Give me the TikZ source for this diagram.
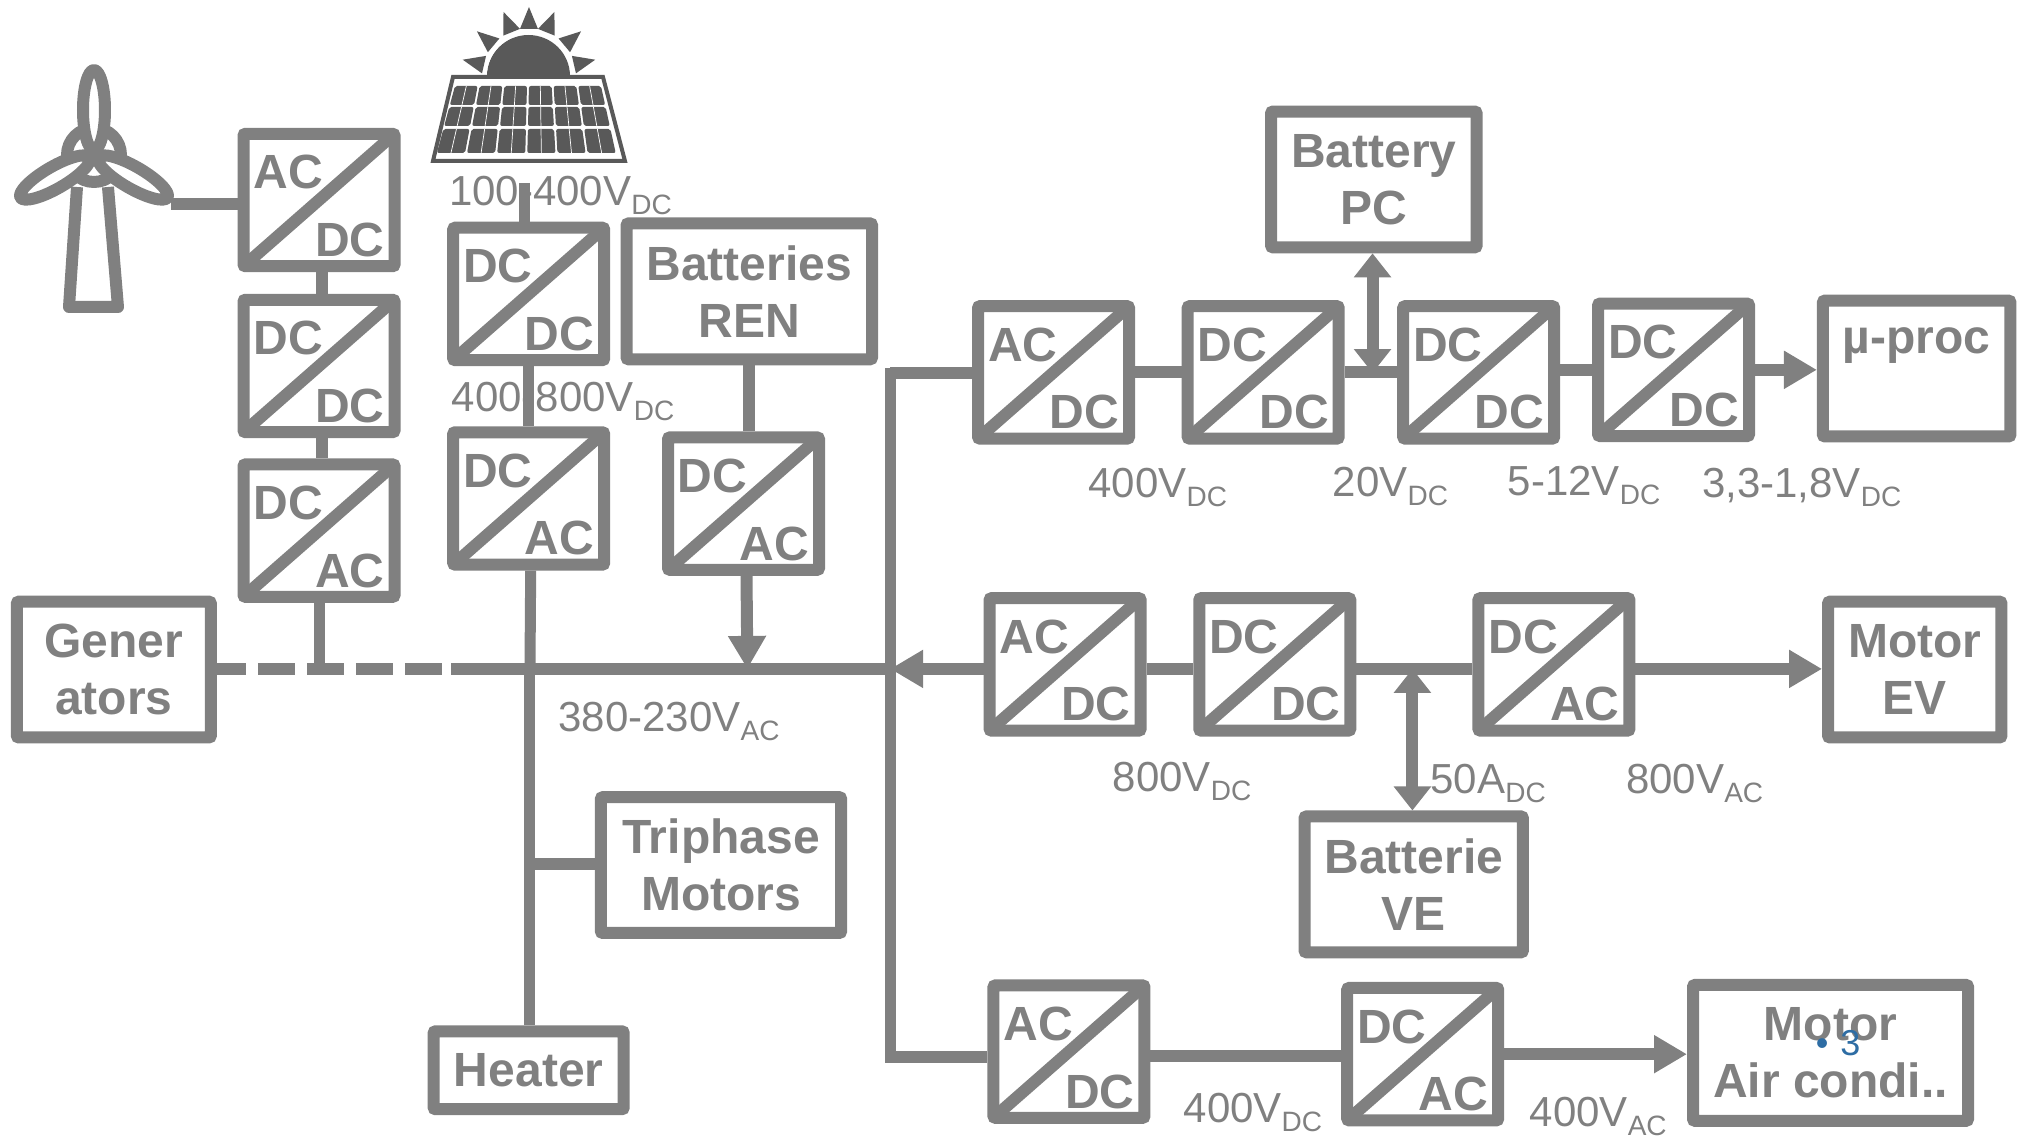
\documentclass[tikz,border=0pt]{standalone}
\usepackage{fontspec}
\setmainfont{Liberation Sans}
\usetikzlibrary{arrows.meta,calc}
\definecolor{gr}{HTML}{808080}
\definecolor{dk}{HTML}{595959}
\definecolor{blu}{HTML}{2E6DA4}
\tikzset{
  wire/.style={draw=gr,line width=12pt},
  thinwire/.style={draw=gr,line width=11pt},
  arr/.style={wire,-{Triangle[length=33pt,width=36pt]}},
  darr/.style={wire,{Triangle[length=24pt,width=36pt]}-{Triangle[length=24pt,width=36pt]}},
  blockbox/.style={draw=gr,line width=12pt,rounded corners=2pt,fill=white,inner sep=0pt},
  conv/.style={blockbox,minimum width=151pt,minimum height=132.4pt},
  ctxt/.style={text=gr,inner sep=0pt,font=\fontsize{48}{57}\selectfont\bfseries},
  btxt/.style={text=gr,inner sep=0pt,align=center,font=\fontsize{48}{57}\selectfont\bfseries},
  lab/.style={text=gr,inner sep=0pt,anchor=base west,font=\fontsize{42}{46}\selectfont},
  turb/.style={draw=gr,line width=12pt,line join=round}
}
% name, left, top, upper-left text, lower-right text (reference-view units)
\newcommand\conv[5]{%
  \node[conv] (#1) at ({#2+62},{#3+54.5}) {};
  \draw[wire] ([shift={(6pt,6pt)}]#1.south west) -- ([shift={(-6pt,-6pt)}]#1.north east);
  \node[ctxt] (#1tl) at ([shift={(-24,-21.5)}]#1.center) {#4};
  \node[ctxt] (#1br) at ([shift={(24,31)}]#1.center) {#5};
}
% name, x1, y1, x2, y2, text
\newcommand\tbox[6]{%
  \node[blockbox,btxt,minimum width={(#4-#2)*1.2864*1pt-8pt},minimum height={(#5-#3)*1.2864*1pt-7pt}] (#1) at ({(#2+#4)/2},{(#3+#5)/2}) {#6};
}
\newcommand\volt[2]{#1\raisebox{-9pt}{\fontsize{28}{30}\selectfont #2}}
\begin{document}
\begin{tikzpicture}[x=1.2864pt,y=-1.2864pt]
\useasboundingbox (0,0) rectangle (1568,885.4);
% wind turbine
\begin{scope}[x=1pt,y=-1pt]
  \draw[turb] (77,187) -- (69,307) -- (118,307) -- (108,187);
  \draw[turb] (94,155) circle (27);
  \foreach \a in {0,120,240}{
    \fill[white,rotate around={\a:(94,155)}] (94,110) ellipse (11 and 40);
  }
  \foreach \a in {0,120,240}{
    \draw[turb,rotate around={\a:(94,155)}] (94,110) ellipse (11 and 40);
  }
  \coordinate (windout) at (171,204);
\end{scope}
% solar panel
\begin{scope}[x=1pt,y=-1pt]
  \fill[dk] (487,76) arc[start angle=180,end angle=360,x radius=41.5,y radius=41];
  \foreach \a in {90,112,140,167,68,40,13}{
    \fill[dk] ($(529,75)+(\a:68 and -68)$) -- ($(529,75)+({\a+11}:47 and -47)$) -- ($(529,75)+({\a-11}:47 and -47)$) -- cycle;
  }
  \draw[white,line width=2.5pt] (485.5,76) arc[start angle=180,end angle=360,x radius=43.5,y radius=43];
  \draw[dk,line width=4pt,fill=white] (453,77) -- (603,77) -- (625,161) -- (433,161) -- cycle;
  \foreach \r/\ya/\yb in {0/86/105,1/107/126,2/129/153}{
    \foreach \c in {0,...,5}{
      \pgfmathsetmacro\xla{455-(\ya-86)*0.27+\c*(148+(\ya-86)*0.49)/6}
      \pgfmathsetmacro\xra{\xla+(148+(\ya-86)*0.49)/6-2}
      \pgfmathsetmacro\xlb{455-(\yb-86)*0.27+\c*(148+(\yb-86)*0.49)/6}
      \pgfmathsetmacro\xrb{\xlb+(148+(\yb-86)*0.49)/6-2}
      \fill[dk,rounded corners=2pt] (\xla,\ya) -- (\xra,\ya) -- (\xrb,\yb) -- (\xlb,\yb) -- cycle;
      \draw[white,line width=.7pt] ({(\xla+\xra)/2},\ya) -- ({(\xlb+\xrb)/2},\yb);
    }
  }
  \coordinate (pvout) at (525,183);
\end{scope}
% labels under the lines
\node[lab] (l1) at (349,159.4) {\volt{100-400V}{DC}};
\node[lab] (l2) at (351,320) {\volt{400-800V}{DC}};
% blocks
\conv{a1}{186}{101}{AC}{DC}
\conv{a2}{186}{230}{DC}{DC}
\conv{a3}{186}{358}{DC}{AC}
\conv{b1}{349}{174}{DC}{DC}
\conv{b2}{349}{333}{DC}{AC}
\conv{c1}{516}{337}{DC}{AC}
\conv{d1}{757}{235}{AC}{DC}
\conv{d2}{920}{235}{DC}{DC}
\conv{d3}{1087.5}{235}{DC}{DC}
\conv{d4}{1239}{233}{DC}{DC}
\conv{e1}{766}{462}{AC}{DC}
\conv{e2}{929}{462}{DC}{DC}
\conv{e3}{1146}{462}{DC}{AC}
\conv{f1}{769}{763}{AC}{DC}
\conv{f2}{1044}{765}{DC}{AC}
\tbox{ren}{484}{171}{681}{282}{Batteries\\REN}
\tbox{pc}{985}{84}{1151}{195}{Battery\\PC}
\tbox{up}{1414}{231}{1566}{342}{}
\node[btxt] (uptxt) at (1490,269) {µ-proc};
\tbox{ev}{1418}{465}{1559}{576}{Motor\\EV}
\tbox{ve}{1011}{632}{1187}{743}{Batterie\\VE}
\tbox{air}{1313}{763}{1533}{874}{Motor\\Air condi..}
\tbox{gen}{10}{465}{167}{576}{Gener\\ators}
\tbox{tri}{464}{617}{657}{728}{Triphase\\Motors}
\tbox{heat}{334}{799}{488}{865}{Heater}
% bus coordinates
\coordinate (busdash) at (350.6,520);
\coordinate (busa) at (248,520);
\coordinate (busb) at (412,520);
\coordinate (busc) at (581,520);
\coordinate (main) at (692,520);
\coordinate (maint) at (692,290);
\coordinate (mainb) at (692,822);
\coordinate (tee) at (411,672);
\coordinate (vd) at (1067,290);
\coordinate (vv) at (1098,520);
\coordinate (fbus) at (900,821);
\coordinate (ebus) at (1000,520);
% connectors
\draw[wire] (windout) -- (windout -| a1.west);
\draw[wire] ([xshift=3pt]a1.south) -- ([xshift=3pt]a2.north);
\draw[wire] ([xshift=3pt]a2.south) -- ([xshift=3pt]a3.north);
\draw[thinwire] (a3.south) -- (busa);
\draw[thinwire] (pvout) -- (pvout |- b1.north);
\draw[thinwire] (b1.south) -- (b2.north);
\draw[thinwire] ([xshift=2pt]b2.south) -- (busb);
\draw[wire] (ren.south) -- (ren.south |- c1.north);
\draw[arr] ([xshift=3pt]c1.south) -- (busc);
\draw[wire,dash pattern=on 37pt off 12pt,dash phase=8pt] (gen.east |- busa) -- (busdash);
\draw[wire] (busdash) -- (main);
\draw[thinwire] (busb) -- (busb |- heat.north);
\draw[wire] (tee) -- (tee -| tri.west);
\draw[thinwire,line cap=rect] (maint) -- (mainb);
\draw[wire] (maint) -- (maint -| d1.west);
\draw[wire] (mainb) -- (mainb -| f1.west);
\draw[wire] (d1.east) -- (d2.west);
\draw[wire] (d2.east) -- (d3.west);
\draw[wire] (d3.east |- d4.west) -- (d4.west);
\draw[arr] (d4.east) -- (d4.east -| up.west);
\draw[darr] (vd) -- (vd |- pc.south);
\draw[arr] (ebus -| e1.west) -- (main);
\draw[wire] (ebus -| e1.east) -- (ebus -| e2.west);
\draw[wire] (ebus -| e2.east) -- (ebus -| e3.west);
\draw[arr] (ebus -| e3.east) -- (ebus -| ev.west);
\draw[darr] (vv) -- (vv |- ve.north);
\draw[wire] (fbus -| f1.east) -- (fbus -| f2.west);
\draw[arr] (f2.east) -- (f2.east -| air.west);
% labels
\node[lab] (l3) at (846,387) {\volt{400V}{DC}};
\node[lab] (l4) at (1036,386) {\volt{20V}{DC}};
\node[lab] (l5) at (1172,385) {\volt{5-12V}{DC}};
\node[lab] (l6) at (1323,387) {\volt{3,3-1,8V}{DC}};
\node[lab] (l7) at (434,569) {\volt{380-230V}{AC}};
\node[lab] (l8) at (865,615) {\volt{800V}{DC}};
\node[lab] (l9) at (1112,617) {\volt{50A}{DC}};
\node[lab] (l10) at (1264,617) {\volt{800V}{AC}};
\node[lab] (l11) at (920,873) {\volt{400V}{DC}};
\node[lab] (l12) at (1189,876) {\volt{400V}{AC}};
\node[text=blu,inner sep=0pt,font=\fontsize{36}{40}\selectfont] (pg) at (1429,811) {•\,\,3};
\end{tikzpicture}
\end{document}
